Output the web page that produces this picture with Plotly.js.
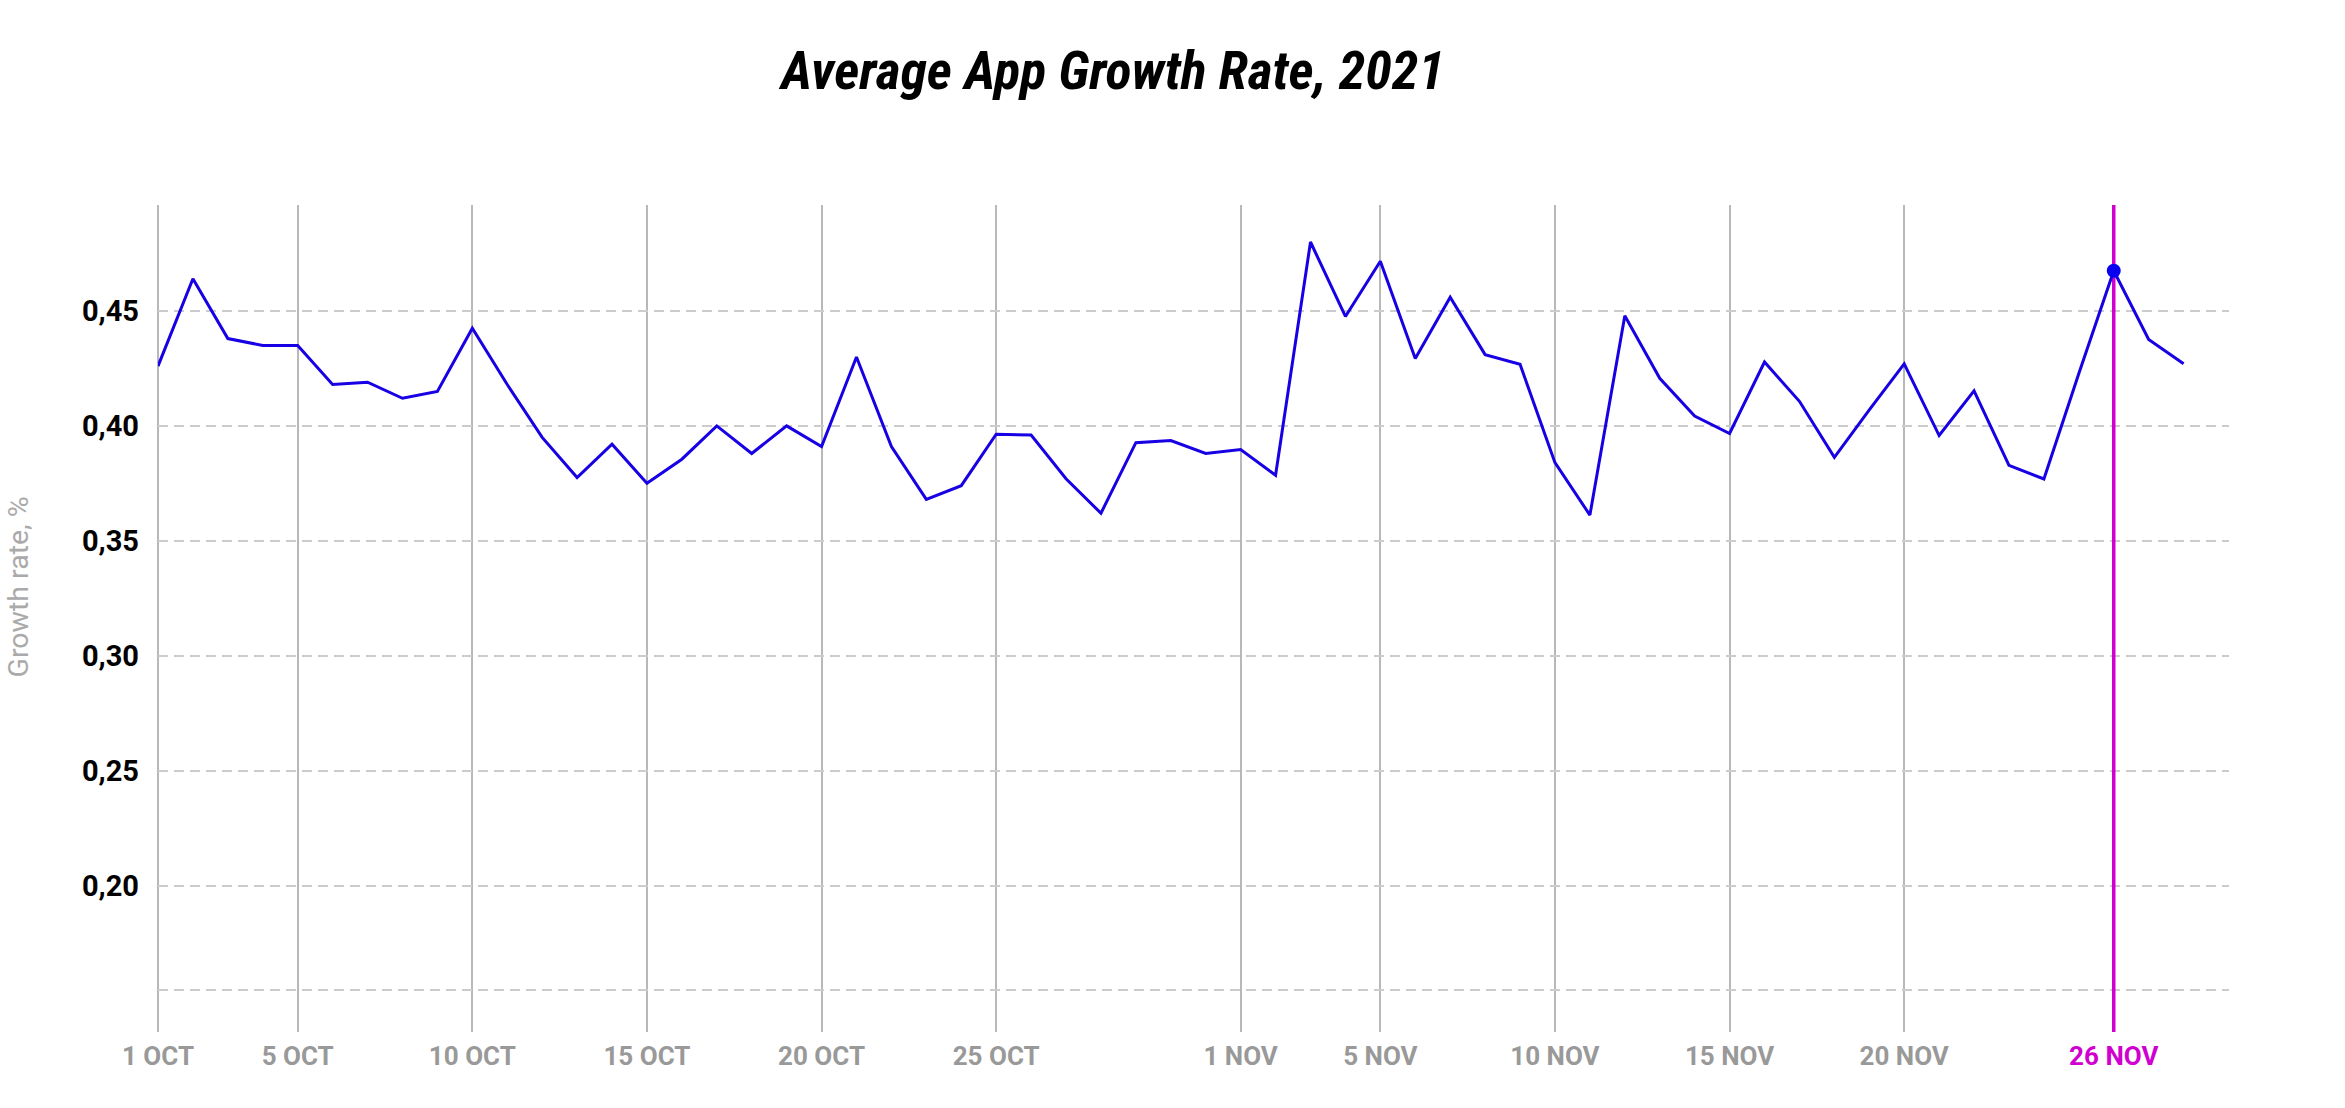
<!DOCTYPE html>
<html>
<head>
<meta charset="utf-8">
<script src="https://cdn.plot.ly/plotly-3.0.1.min.js"></script>
<style>html,body{margin:0;padding:0;background:#fff;}#chart{width:2345px;height:1108px;}</style>
</head>
<body>
<div id="chart"></div>
<script>
const dates = [
  '2021-10-01','2021-10-02','2021-10-03','2021-10-04','2021-10-05','2021-10-06','2021-10-07','2021-10-08','2021-10-09','2021-10-10',
  '2021-10-11','2021-10-12','2021-10-13','2021-10-14','2021-10-15','2021-10-16','2021-10-17','2021-10-18','2021-10-19','2021-10-20',
  '2021-10-21','2021-10-22','2021-10-23','2021-10-24','2021-10-25','2021-10-26','2021-10-27','2021-10-28','2021-10-29','2021-10-30',
  '2021-10-31','2021-11-01','2021-11-02','2021-11-03','2021-11-04','2021-11-05','2021-11-06','2021-11-07','2021-11-08','2021-11-09',
  '2021-11-10','2021-11-11','2021-11-12','2021-11-13','2021-11-14','2021-11-15','2021-11-16','2021-11-17','2021-11-18','2021-11-19',
  '2021-11-20','2021-11-21','2021-11-22','2021-11-23','2021-11-24','2021-11-25','2021-11-26','2021-11-27','2021-11-28'
];
const growthRate = [
  0.426, 0.464, 0.438, 0.435, 0.435, 0.418, 0.419, 0.412, 0.415, 0.4425,
  0.418, 0.395, 0.3775, 0.392, 0.375, 0.3855, 0.400, 0.388, 0.400, 0.391,
  0.430, 0.391, 0.368, 0.374, 0.3964, 0.396, 0.377, 0.362, 0.3927, 0.3936,
  0.388, 0.3897, 0.3785, 0.480, 0.4476, 0.4716, 0.4293, 0.456, 0.431, 0.4268,
  0.384, 0.3612, 0.4479, 0.4207, 0.4043, 0.3967, 0.4278, 0.4107, 0.3863, 0.407,
  0.427, 0.3958, 0.4152, 0.3828, 0.3769, 0.4228, 0.4675, 0.4376, 0.427
];
const xTickVals = ['2021-10-01','2021-10-05','2021-10-10','2021-10-15','2021-10-20','2021-10-25','2021-11-01','2021-11-05','2021-11-10','2021-11-15','2021-11-20','2021-11-26'];
const xTickText = ['1 OCT','5 OCT','10 OCT','15 OCT','20 OCT','25 OCT','1 NOV','5 NOV','10 NOV','15 NOV','20 NOV','26 NOV'];
const yTickVals = [0.1545, 0.20, 0.25, 0.30, 0.35, 0.40, 0.45];
const yTickText = ['', '0,20', '0,25', '0,30', '0,35', '0,40', '0,45'];
const yRange = [0.1363, 0.4961];
const xRange = ['2021-10-01', '2021-11-29 07:12'];
const highlightDate = '2021-11-26';

const lineColor = '#1800e4';
const markerColor = '#0a00f0';
const accent = '#d000d0';

const hiIdx = dates.indexOf(highlightDate);
const tickTextStyled = xTickText.map((t, i) => xTickVals[i] === highlightDate ? '<span style="color:' + accent + '">' + t + '</span>' : t);

const traces = [
  {x: [highlightDate, highlightDate], y: yRange, type: 'scatter', mode: 'lines', line: {color: accent, width: 3.5}, hoverinfo: 'skip', cliponaxis: false},
  {x: dates, y: growthRate, type: 'scatter', mode: 'lines', line: {color: lineColor, width: 3}, hoverinfo: 'x+y'},
  {x: [dates[hiIdx]], y: [growthRate[hiIdx]], type: 'scatter', mode: 'markers', marker: {color: markerColor, size: 14}, hoverinfo: 'x+y'}
];

const layout = {
  width: 2345, height: 1108,
  margin: {l: 158, r: 116, t: 205, b: 76},
  paper_bgcolor: '#fff', plot_bgcolor: '#fff',
  showlegend: false,
  font: {family: 'Roboto, sans-serif'},
  title: {
    text: 'Average App Growth Rate, 2021',
    font: {family: 'Roboto Condensed, Liberation Sans Narrow, Roboto, sans-serif', size: 54, weight: 700, style: 'italic', color: '#000'},
    xref: 'container', x: 0.4746, xanchor: 'center',
    yref: 'container', y: 1 - 70 / 1108, yanchor: 'middle'
  },
  xaxis: {
    type: 'date',
    range: xRange,
    tickmode: 'array', tickvals: xTickVals, ticktext: tickTextStyled,
    showgrid: true, gridcolor: '#b8b8b8', gridwidth: 2,
    showline: false, zeroline: false, ticks: '',
    tickfont: {family: 'Roboto, sans-serif', size: 26, weight: 700, color: '#999999'},
    ticklabelstandoff: 6
  },
  yaxis: {
    range: yRange,
    tickmode: 'array', tickvals: yTickVals, ticktext: yTickText,
    showgrid: true, gridcolor: '#cccccc', gridwidth: 2, griddash: '10px,6px',
    showline: false, zeroline: false, ticks: '',
    tickfont: {family: 'Roboto, sans-serif', size: 29, weight: 700, color: '#000'},
    ticklabelstandoff: 18
  },
  shapes: [
    {type: 'line', xref: 'paper', yref: 'paper', x0: 0, x1: 0, y0: 0, y1: 1, line: {color: '#b8b8b8', width: 2}, layer: 'below'}
  ],
  annotations: [
    {text: 'Growth rate, %', textangle: -90, showarrow: false,
     xref: 'paper', yref: 'paper', x: -0.0672, y: 0.5385, xanchor: 'center', yanchor: 'middle',
     font: {family: 'Roboto, sans-serif', size: 28.5, color: '#aaaaaa'}}
  ]
};

Plotly.newPlot('chart', traces, layout, {displayModeBar: false, staticPlot: true});
</script>
</body>
</html>
